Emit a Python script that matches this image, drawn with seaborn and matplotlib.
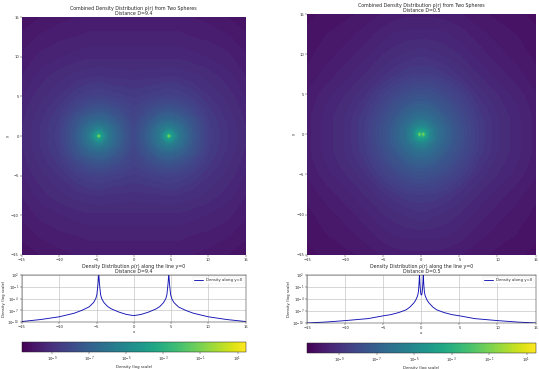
import numpy as np
import pandas as pd
import matplotlib
matplotlib.use("Agg")
import matplotlib.pyplot as plt
import seaborn as sns

sns.set_style("white")

# --- D = 9.4: quadrant of log10(density)
left_x = [0, 2, 3.5, 4.4, 4.7, 5, 6, 7.5, 10, 12.5, 15]
left_y = [0, 0.3, 1, 2, 3.5, 5, 7.5, 10, 12.5, 15]
left_log = [
    [-8.0, -7.0, -5.8, -3.9, -1.0, -3.9, -5.8, -7.1, -8.4, -8.85, -9.2],
    [-8.0, -7.0, -5.8, -4.2, -3.9, -4.2, -5.85, -7.1, -8.4, -8.85, -9.2],
    [-8.05, -7.1, -6.0, -5.5, -5.5, -5.5, -6.1, -7.2, -8.45, -8.85, -9.2],
    [-8.15, -7.4, -6.8, -6.6, -6.6, -6.6, -6.85, -7.4, -8.5, -8.9, -9.25],
    [-8.3, -7.95, -7.65, -7.6, -7.6, -7.6, -7.7, -8.05, -8.65, -9.0, -9.3],
    [-8.55, -8.45, -8.35, -8.3, -8.3, -8.3, -8.35, -8.5, -8.85, -9.1, -9.4],
    [-8.95, -8.9, -8.9, -8.85, -8.85, -8.85, -8.9, -8.95, -9.1, -9.3, -9.55],
    [-9.25, -9.25, -9.25, -9.25, -9.25, -9.25, -9.25, -9.3, -9.4, -9.5, -9.7],
    [-9.5, -9.5, -9.5, -9.5, -9.5, -9.5, -9.5, -9.55, -9.6, -9.7, -9.85],
    [-9.7, -9.7, -9.7, -9.7, -9.7, -9.7, -9.7, -9.72, -9.8, -9.9, -10.05],
]

# --- D = 0.5
right_x = [0, 0.25, 0.5, 1, 2, 3.5, 5, 7.5, 10, 12.5, 15]
right_y = [0, 0.3, 0.6, 1, 2, 3.5, 5, 7.5, 10, 12.5, 15]
right_log = [
    [-3.2, -1.0, -3.5, -5.0, -6.2, -7.1, -7.7, -8.6, -9.1, -9.4, -9.7],
    [-3.6, -3.5, -3.8, -5.0, -6.2, -7.1, -7.7, -8.6, -9.1, -9.4, -9.7],
    [-4.3, -4.3, -4.5, -5.1, -6.2, -7.1, -7.7, -8.6, -9.1, -9.4, -9.7],
    [-5.1, -5.1, -5.2, -5.6, -6.35, -7.15, -7.75, -8.6, -9.1, -9.4, -9.7],
    [-6.2, -6.2, -6.25, -6.35, -6.75, -7.35, -7.85, -8.65, -9.1, -9.4, -9.7],
    [-7.1, -7.1, -7.1, -7.15, -7.35, -7.7, -8.15, -8.8, -9.2, -9.45, -9.75],
    [-7.7, -7.7, -7.7, -7.75, -7.85, -8.15, -8.45, -9.0, -9.3, -9.55, -9.8],
    [-8.6, -8.6, -8.6, -8.6, -8.65, -8.8, -9.0, -9.3, -9.55, -9.75, -9.95],
    [-9.0, -9.0, -9.0, -9.05, -9.1, -9.2, -9.3, -9.55, -9.75, -9.9, -10.05],
    [-9.4, -9.4, -9.4, -9.4, -9.4, -9.45, -9.55, -9.75, -9.9, -10.0, -10.15],
    [-9.7, -9.7, -9.7, -9.7, -9.7, -9.75, -9.8, -9.95, -10.05, -10.15, -10.2],
]

# --- density along y=0 (x >= 0 half, mirrored)
left_line_x = [0, 1, 2, 3, 3.5, 4, 4.3, 4.45, 4.55, 4.62, 4.7, 4.78, 4.85, 4.95, 5.1, 5.4, 6, 7, 8, 10, 12.5, 15]
left_line_log = [-8.3, -8.0, -7.4, -6.6, -6.0, -5.0, -4.0, -3.0, -1.2, 0.2, 2.5, 0.2, -1.2, -3.0, -4.0, -5.0, -6.1, -7.0, -7.7, -8.6, -9.3, -9.8]
right_line_x = [0, 0.05, 0.1, 0.15, 0.2, 0.25, 0.3, 0.35, 0.4, 0.5, 0.75, 1, 1.5, 2, 3, 4, 5, 7, 10, 12.5, 15]
right_line_log = [-3.0, -2.9, -2.4, -1.3, 0.2, 2.5, 0.2, -1.2, -2.3, -3.2, -4.3, -5.0, -6.0, -6.7, -7.4, -7.9, -8.2, -8.9, -9.4, -9.75, -10.0]

x_ticks = [-15, -10, -5, 0, 5, 10, 15]
line_ticks = [2, -1, -4, -7, -10]
cbar_ticks = [-9, -7, -5, -3, -1, 1]
map_title = "Combined Density Distribution ρ(r) from Two Spheres"
line_title = "Density Distribution ρ(r) along the line y=0"

W, H = 539, 369
FS_T, FS_L, FS_K = 3.45, 2.8, 2.7


def box(x0, x1, y0, y1):
    return [x0 / W, 1 - y1 / H, (x1 - x0) / W, (y1 - y0) / H]


def mirror(xs, ys, z):
    xs, ys, z = np.array(xs), np.array(ys), np.array(z)
    X = np.r_[-xs[:0:-1], xs]
    Y = np.r_[-ys[:0:-1], ys]
    Z = np.vstack([z[:0:-1], z])
    Z = np.hstack([Z[:, :0:-1], Z])
    return X, Y, Z


def style(ax):
    ax.tick_params(labelsize=FS_K, length=1.2, width=0.3, pad=1, bottom=True, left=True)
    for s in ax.spines.values():
        s.set_linewidth(0.35)
        s.set_color("#222222")


def panel(x0, x1, rows, dist, xs, ys, z, lx, ll, vmin, vmax):
    ax = fig.add_axes(box(x0, x1, *rows[0]))
    X, Y, Z = mirror(xs, ys, z)
    levels = np.linspace(vmin, vmax, 70)
    ax.contourf(X, Y, Z, levels=levels, cmap="viridis", vmin=vmin, vmax=vmax,
                extend="both", antialiased=False)
    ax.set_xlim(-15, 15)
    ax.set_ylim(-15, 15)
    ax.set_xticks(x_ticks)
    ax.set_yticks(x_ticks)
    ax.set_ylabel("y", fontsize=FS_L, labelpad=0.5)
    ax.set_title(f"{map_title}\nDistance D={dist}", fontsize=FS_T, pad=1.5, linespacing=1.1)
    style(ax)
    for s in ax.spines.values():
        s.set_visible(False)

    ax2 = fig.add_axes(box(x0, x1, *rows[1]))
    lx = np.array(lx)
    ll = np.array(ll)
    df = pd.DataFrame({
        "x": np.r_[-lx[:0:-1], lx],
        "rho": 10.0 ** np.r_[ll[:0:-1], ll],
    })
    sns.lineplot(data=df, x="x", y="rho", ax=ax2, color="#1212b4", lw=0.65,
                 estimator=None, sort=False, label="Density along y=0")
    ax2.set_yscale("log")
    ax2.set_xlim(-15, 15)
    ax2.set_ylim(1e-10, 1e2)
    ax2.set_xticks(x_ticks)
    ax2.set_yticks([10.0 ** t for t in line_ticks])
    ax2.minorticks_off()
    ax2.grid(True, color="#b8b8b8", lw=0.4)
    ax2.set_xlabel("x", fontsize=FS_L, labelpad=0.5)
    ax2.set_ylabel("Density (log scale)", fontsize=FS_L, labelpad=0.5)
    ax2.set_title(f"{line_title}\nDistance D={dist}", fontsize=FS_T, pad=1.5, linespacing=1.1)
    ax2.legend(loc="upper right", fontsize=FS_L, frameon=True, edgecolor="#dddddd",
               framealpha=0.8, borderpad=0.4, handlelength=2.2).get_frame().set_linewidth(0.3)
    style(ax2)

    cax = fig.add_axes(box(x0, x1, *rows[2]))
    sm = plt.cm.ScalarMappable(norm=plt.Normalize(vmin, vmax), cmap="viridis")
    cb = fig.colorbar(sm, cax=cax, orientation="horizontal")
    cb.set_ticks(cbar_ticks)
    cb.set_ticklabels([f"$\\mathdefault{{10^{{{t}}}}}$" for t in cbar_ticks])
    cb.set_label("Density (log scale)", fontsize=FS_L, labelpad=1)
    cb.outline.set_linewidth(0.35)
    cax.tick_params(labelsize=FS_K, length=1.2, width=0.3, pad=1)


fig = plt.figure(figsize=(W / 100, H / 100), dpi=100)
panel(22, 245.5, [(17.3, 254.7), (275, 322.3), (342, 351.7)], 9.4,
      left_x, left_y, left_log, left_line_x, left_line_log, -10.6, 1.43)
panel(307.3, 535.5, [(14, 254.7), (275, 323), (343, 352.7)], 0.5,
      right_x, right_y, right_log, right_line_x, right_line_log, -10.7, 1.48)
fig.savefig("out.png", dpi=100)
